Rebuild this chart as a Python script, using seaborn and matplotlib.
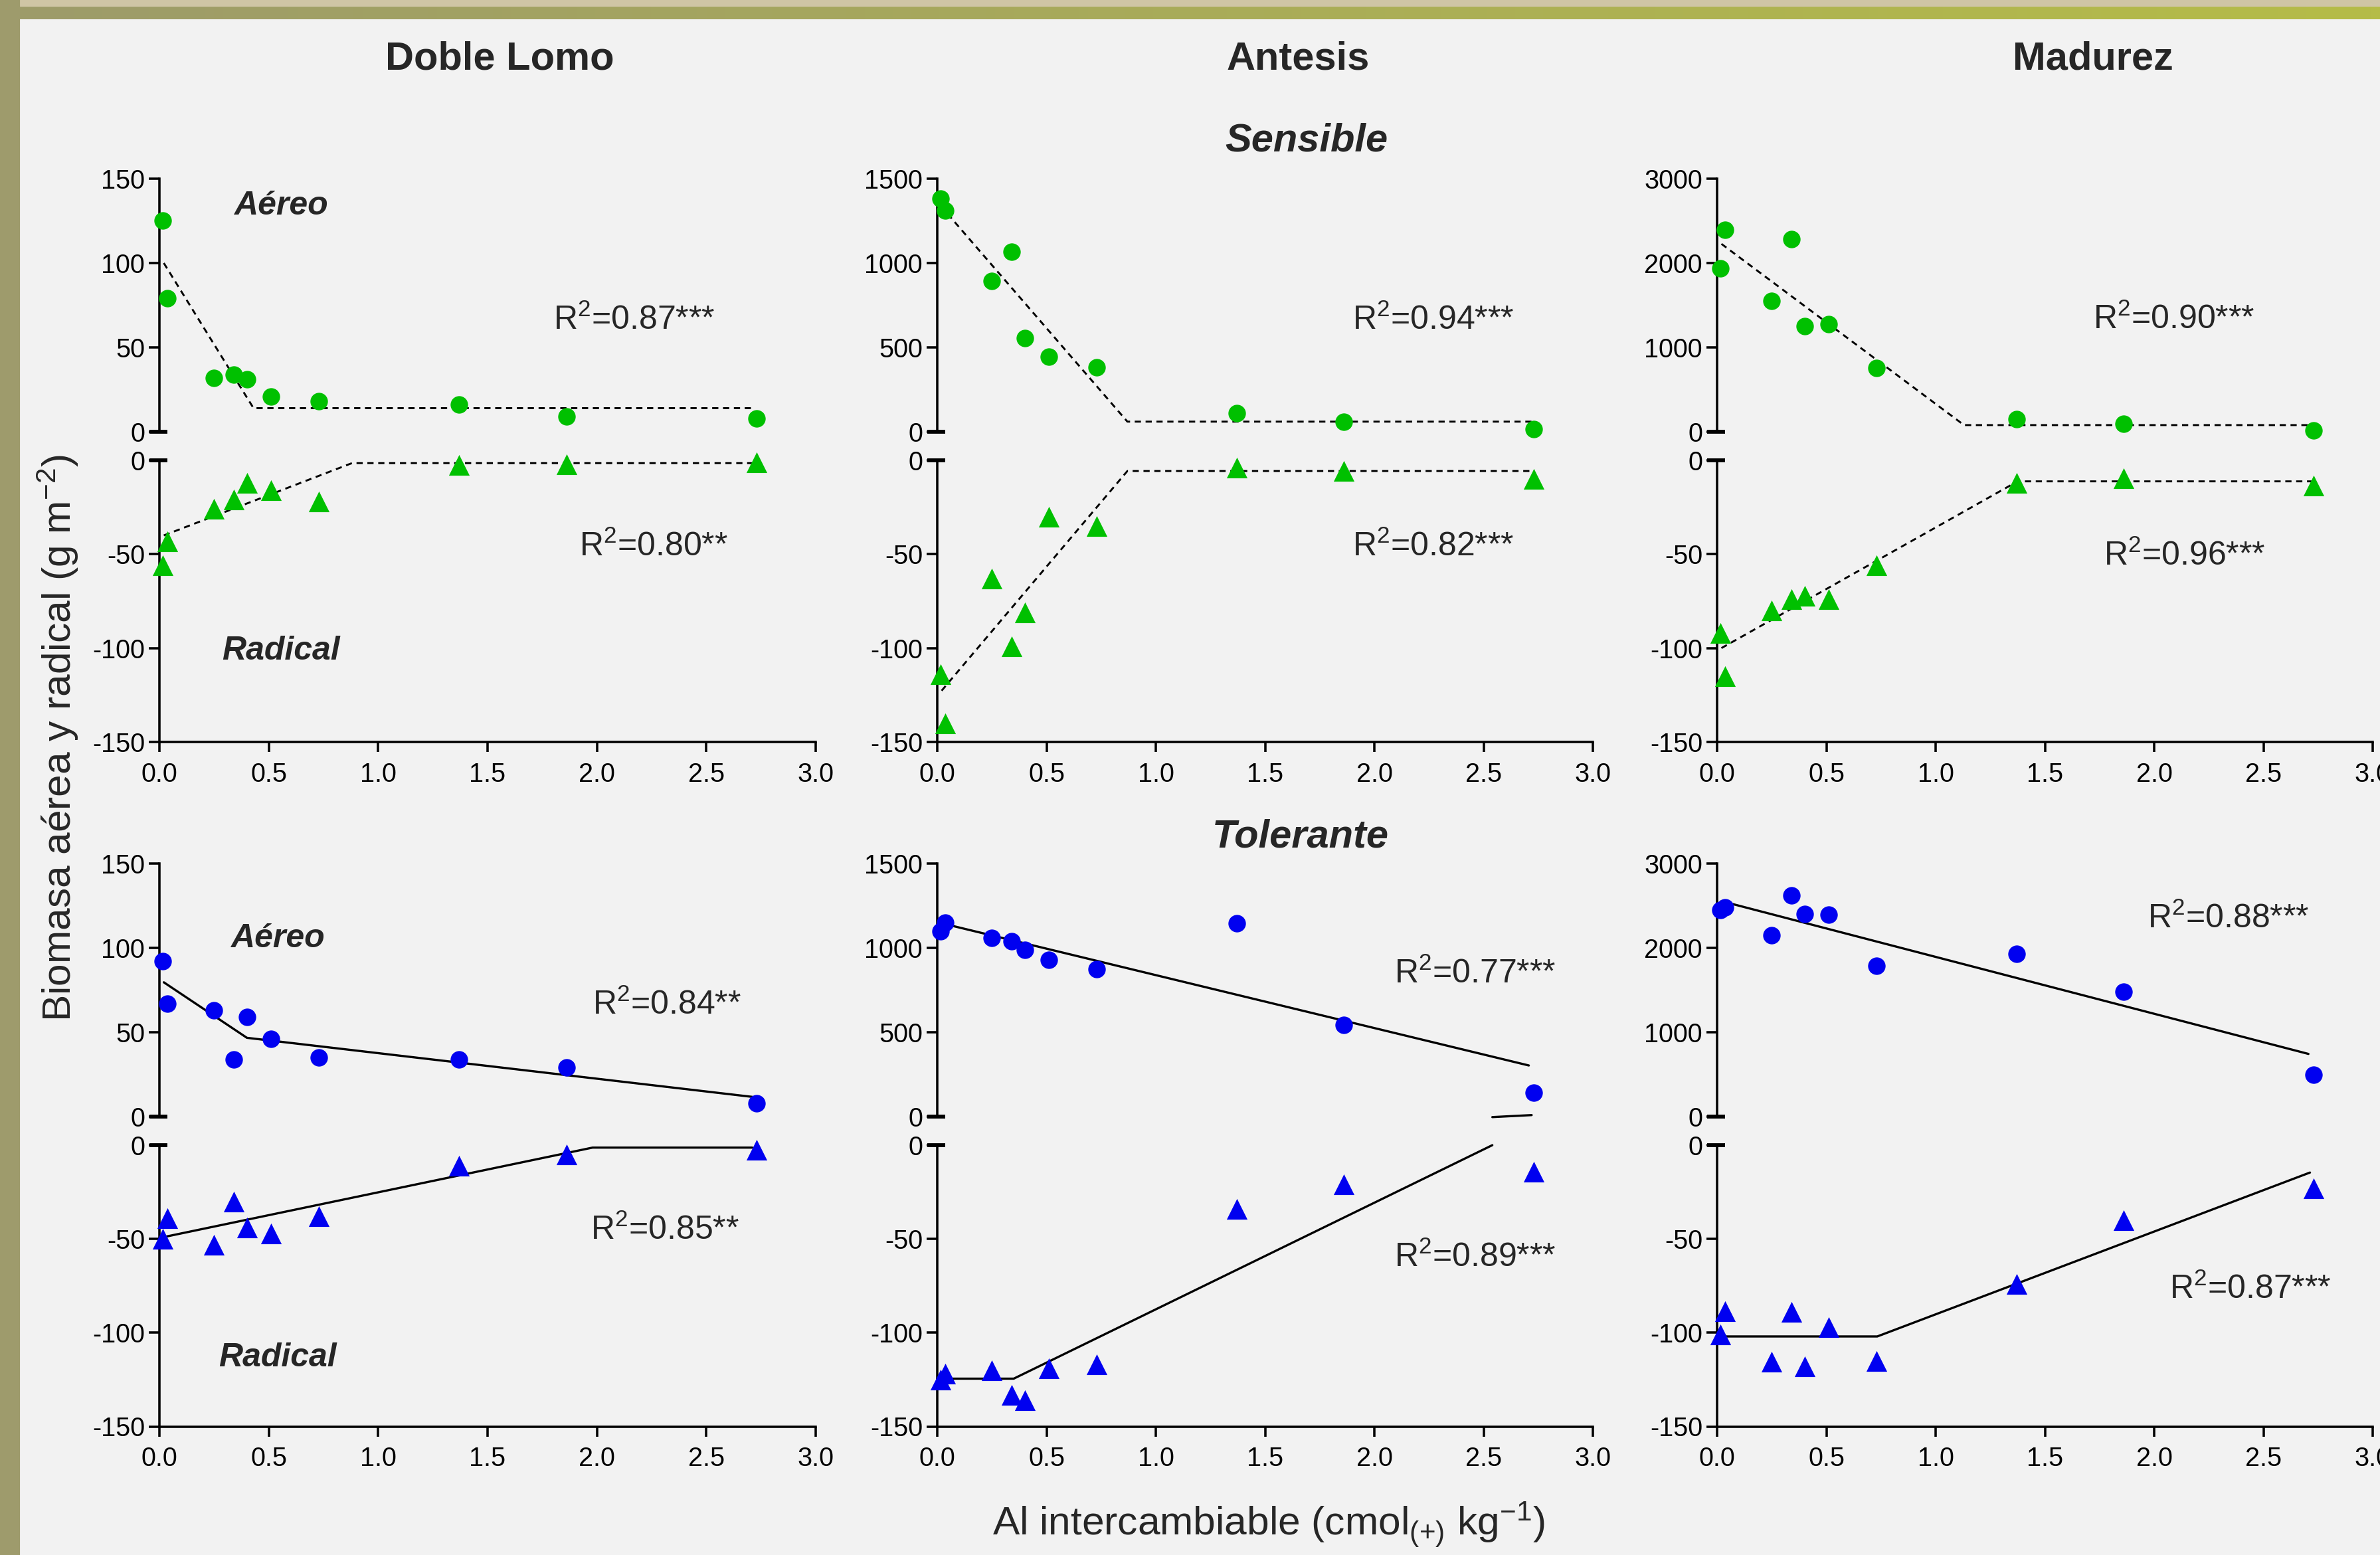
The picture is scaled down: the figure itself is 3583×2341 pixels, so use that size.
import numpy as np
import pandas as pd
import matplotlib
matplotlib.use("Agg")
import matplotlib.pyplot as plt
import seaborn as sns
from matplotlib.transforms import blended_transform_factory
from matplotlib.patches import Rectangle
from matplotlib.colors import LinearSegmentedColormap

sns.set_theme(style="white")
plt.rcParams['font.family'] = ['Liberation Sans', 'DejaVu Sans']
plt.rcParams['mathtext.fontset'] = 'custom'
plt.rcParams['mathtext.rm'] = 'Liberation Sans'
plt.rcParams['mathtext.it'] = 'Liberation Sans:italic'
plt.rcParams['mathtext.bf'] = 'Liberation Sans:bold'
plt.rcParams['axes.unicode_minus'] = False

# ---------------- data ----------------
stages = ["Doble Lomo", "Antesis", "Madurez"]
cultivars = ["Sensible", "Tolerante"]
al = [0.015, 0.035, 0.25, 0.34, 0.40, 0.51, 0.73, 1.37, 1.86, 2.73]
x_ticks = [0.0, 0.5, 1.0, 1.5, 2.0, 2.5, 3.0]
aereo_ticks = [[0, 50, 100, 150], [0, 500, 1000, 1500], [0, 1000, 2000, 3000]]
radical_ticks = [0, -50, -100, -150]

# Sensible (green)
aer_DL_S = [125, 79, 32, 34, 31, 21, 18, 16, 9, 8]
rad_DL_S = [-56, -43, -26, -21, -12, -16, -22, -2.5, -2, -1]
aer_AN_S = [1380, 1310, 895, 1065, 555, 445, 380, 110, 60, 15]
rad_AN_S = [-114, -140, -63, -99, -81, -30, -35, -4, -5.5, -10]
aer_MA_S = [1940, 2395, 1555, 2280, 1250, 1275, 755, 150, 95, 15]
rad_MA_S = [-92, -115, -80, -74, -72, -74, -56, -12, -9.5, -13.5]
# Tolerante (blue)
aer_DL_T = [92, 67, 63, 34, 59, 46, 35, 34, 29, 8]
rad_DL_T = [-50, -39, -53, -30, -44, -47, -38, -11, -5, -2.5]
aer_AN_T = [1100, 1150, 1060, 1040, 990, 930, 875, 1145, 545, 140]
rad_AN_T = [-125, -122, -120, -133, -136, -119, -117, -34, -21, -14]
aer_MA_T = [2450, 2480, 2150, 2620, 2400, 2390, 1790, 1930, 1480, 500]
rad_MA_T = [-101, -88.5, -115.5, -89, -118, -97, -115, -74, -40, -23]

# fitted segmented models (x, y breakpoints)
fitx_aer_DL_S = [0.02, 0.43, 2.71];  fity_aer_DL_S = [100, 14, 14]
fitx_rad_DL_S = [0.02, 0.88, 2.71];  fity_rad_DL_S = [-40, -1.5, -1.5]
fitx_aer_AN_S = [0.015, 0.87, 2.72]; fity_aer_AN_S = [1340, 60, 60]
fitx_rad_AN_S = [0.02, 0.87, 2.72];  fity_rad_AN_S = [-122.7, -5.7, -5.7]
fitx_aer_MA_S = [0.02, 1.13, 2.72];  fity_aer_MA_S = [2227, 79, 79]
fitx_rad_MA_S = [0.02, 1.375, 2.72]; fity_rad_MA_S = [-100, -11.2, -11.2]
fitx_aer_DL_T = [0.02, 0.40, 2.71];  fity_aer_DL_T = [79.6, 46.7, 11.7]
fitx_rad_DL_T = [0.02, 1.98, 2.71];  fity_rad_DL_T = [-49, -1.3, -1.3]
fitx_aer_AN_T = [0.02, 2.707];       fity_aer_AN_T = [1146, 303]
fitx_rad_AN_T = [0.0, 0.35, 2.54];   fity_rad_AN_T = [-124.5, -124.5, 0]
fitx_ext_AN_T = [2.54, 2.72];        fity_ext_AN_T = [-3, 9]
fitx_aer_MA_T = [0.02, 2.706];       fity_aer_MA_T = [2554, 743]
fitx_rad_MA_T = [0.0, 0.733, 2.713]; fity_rad_MA_T = [-102, -102, -14.6]

r2_aer = [["R$^{2}$=0.87***", "R$^{2}$=0.94***", "R$^{2}$=0.90***"],
          ["R$^{2}$=0.84**", "R$^{2}$=0.77***", "R$^{2}$=0.88***"]]
r2_rad = [["R$^{2}$=0.80**", "R$^{2}$=0.82***", "R$^{2}$=0.96***"],
          ["R$^{2}$=0.85**", "R$^{2}$=0.89***", "R$^{2}$=0.87***"]]
r2_aer_pos = [[(2.17, 66), (2.27, 660), (2.09, 1330)],
              [(2.32, 66), (2.46, 845), (2.34, 2345)]]
r2_rad_pos = [[(2.26, -46), (2.27, -46), (2.14, -51)],
              [(2.31, -45.3), (2.46, -59.8), (2.44, -76.8)]]

aer = [[aer_DL_S, aer_AN_S, aer_MA_S], [aer_DL_T, aer_AN_T, aer_MA_T]]
rad = [[rad_DL_S, rad_AN_S, rad_MA_S], [rad_DL_T, rad_AN_T, rad_MA_T]]
fit_aer = [[(fitx_aer_DL_S, fity_aer_DL_S), (fitx_aer_AN_S, fity_aer_AN_S), (fitx_aer_MA_S, fity_aer_MA_S)],
           [(fitx_aer_DL_T, fity_aer_DL_T), (fitx_aer_AN_T, fity_aer_AN_T), (fitx_aer_MA_T, fity_aer_MA_T)]]
fit_rad = [[(fitx_rad_DL_S, fity_rad_DL_S), (fitx_rad_AN_S, fity_rad_AN_S), (fitx_rad_MA_S, fity_rad_MA_S)],
           [(fitx_rad_DL_T, fity_rad_DL_T), (fitx_rad_AN_T, fity_rad_AN_T), (fitx_rad_MA_T, fity_rad_MA_T)]]

colors = ["#00c000", "#0000f0"]
line_styles = [(0, (3.2, 2.4)), "-"]
line_widths = [0.7, 0.8]

# ---------------- layout ----------------
W, H = 3583, 2341
DPI = 300
fig = plt.figure(figsize=(W / DPI, H / DPI), dpi=DPI, facecolor="#f2f2f2")

col_x = [(240, 1228), (1411, 2398), (2585, 3572)]
row_geo = [dict(a_top=269, a_bot=650, r_top=693, r_bot=1117),
           dict(a_top=1300, a_bot=1681, r_top=1724, r_bot=2147.5)]

def fpos(x0, x1, ytop, ybot):
    return [x0 / W, 1 - ybot / H, (x1 - x0) / W, (ybot - ytop) / H]

TICK_FS = 9.5
SPINE_LW = 0.85

def style_axis(ax, bottom):
    ax.set_facecolor("none")
    for s in ["top", "right"]:
        ax.spines[s].set_visible(False)
    ax.spines["left"].set_linewidth(SPINE_LW)
    ax.spines["left"].set_color("black")
    if bottom:
        ax.spines["bottom"].set_linewidth(SPINE_LW)
        ax.spines["bottom"].set_color("black")
        ax.tick_params(axis="x", direction="out", length=3.6, width=SPINE_LW,
                       colors="black", labelsize=TICK_FS, pad=3.5, bottom=True)
    else:
        ax.spines["bottom"].set_visible(False)
        ax.tick_params(axis="x", bottom=False, labelbottom=False)
    ax.tick_params(axis="y", direction="out", length=3.8, width=SPINE_LW,
                   colors="black", labelsize=TICK_FS, pad=1.5, left=True)
    ax.grid(False)

for r in range(2):
    g = row_geo[r]
    for c in range(3):
        x0, x1 = col_x[c]
        ax_a = fig.add_axes(fpos(x0, x1, g["a_top"], g["a_bot"]))
        ax_r = fig.add_axes(fpos(x0, x1, g["r_top"], g["r_bot"]))
        ymax = aereo_ticks[c][-1]

        # aereo
        fx, fy = fit_aer[r][c]
        sns.lineplot(x=fx, y=fy, ax=ax_a, color="black", linestyle=line_styles[r],
                     linewidth=line_widths[r], sort=False, estimator=None, clip_on=False)
        if r == 1 and c == 1:
            sns.lineplot(x=fitx_ext_AN_T, y=fity_ext_AN_T, ax=ax_a, color="black",
                         linewidth=line_widths[r], sort=False, estimator=None, clip_on=False)
        sns.scatterplot(x=al, y=aer[r][c], ax=ax_a, marker="o", s=40, color=colors[r],
                        linewidth=0, clip_on=False, zorder=3)
        ax_a.set_xlim(0, 3)
        ax_a.set_ylim(0, ymax)
        ax_a.set_yticks(aereo_ticks[c])
        ax_a.set_yticklabels([str(t) for t in aereo_ticks[c]])
        style_axis(ax_a, bottom=False)

        # radical
        fx, fy = fit_rad[r][c]
        sns.lineplot(x=fx, y=fy, ax=ax_r, color="black", linestyle=line_styles[r],
                     linewidth=line_widths[r], sort=False, estimator=None, clip_on=False)
        sns.scatterplot(x=al, y=rad[r][c], ax=ax_r, marker="^", s=56, color=colors[r],
                        linewidth=0, clip_on=False, zorder=3)
        ax_r.set_xlim(0, 3)
        ax_r.set_ylim(-150, 0)
        ax_r.set_yticks(radical_ticks)
        ax_r.set_yticklabels([str(t) for t in radical_ticks])
        ax_r.set_xticks(x_ticks)
        ax_r.set_xticklabels([f"{t:.1f}" for t in x_ticks])
        style_axis(ax_r, bottom=True)

        for ax in (ax_a, ax_r):
            ax.set_xlabel("")
            ax.set_ylabel("")
            tr = blended_transform_factory(ax.transAxes, ax.transData)
            ax.plot([-0.0155, 0.012], [0, 0], transform=tr, color="black", lw=1.4,
                    solid_capstyle="butt", clip_on=False, zorder=4)

        # R2 annotations
        ax_a.text(*r2_aer_pos[r][c], r2_aer[r][c], fontsize=12, ha="center", va="center")
        ax_r.text(*r2_rad_pos[r][c], r2_rad[r][c], fontsize=12, ha="center", va="center")

        if c == 0:
            ya = 134 if r == 0 else 105.5
            yr = -101.5 if r == 0 else -113.5
            xa = 0.556 if r == 0 else 0.54
            ax_a.text(xa, ya, "Aéreo", fontsize=12, fontweight="bold", style="italic",
                      ha="center", va="center")
            ax_r.text(xa, yr, "Radical", fontsize=12, fontweight="bold", style="italic",
                      ha="center", va="center")

# column titles and cultivar labels
for name, xc in zip(stages, [752, 1954, 3151]):
    fig.text(xc / W, 1 - 89 / H, name, fontsize=14.3, fontweight="bold",
             ha="center", va="center")
fig.text(1967 / W, 1 - 212 / H, cultivars[0], fontsize=14.3, fontweight="bold",
         style="italic", ha="center", va="center")
fig.text(1958 / W, 1 - 1260 / H, cultivars[1], fontsize=14.3, fontweight="bold",
         style="italic", ha="center", va="center")

fig.text(87 / W, 1 - 1111 / H, "Biomasa aérea y radical (g m$^{\\mathregular{-2}}$)",
         fontsize=14.5, rotation=90, ha="center", va="center")
fig.text(1910 / W, 1 - 2295 / H, "Al intercambiable (cmol$_{\\mathregular{(+)}}$ kg$^{\\mathregular{-1}}$)",
         fontsize=14.5, ha="center", va="center")

# decorative frame
fig.patches.append(Rectangle((0, 1 - 8 / H), 1, 8 / H, transform=fig.transFigure,
                             color="#cfc5a5", zorder=0))
gax = fig.add_axes([0, 1 - 29 / H, 1, 21 / H])
grad = np.linspace(0, 1, 512)[None, :]
cmap = LinearSegmentedColormap.from_list("band", ["#9d9b6a", "#b5bc48"])
gax.imshow(grad, aspect="auto", cmap=cmap, extent=[0, 1, 0, 1])
gax.set_axis_off()
fig.patches.append(Rectangle((0, 0), 28 / W, 1, transform=fig.transFigure,
                             color="#9e9b6c", zorder=5))

fig.savefig("out.png", dpi=DPI, facecolor=fig.get_facecolor())
